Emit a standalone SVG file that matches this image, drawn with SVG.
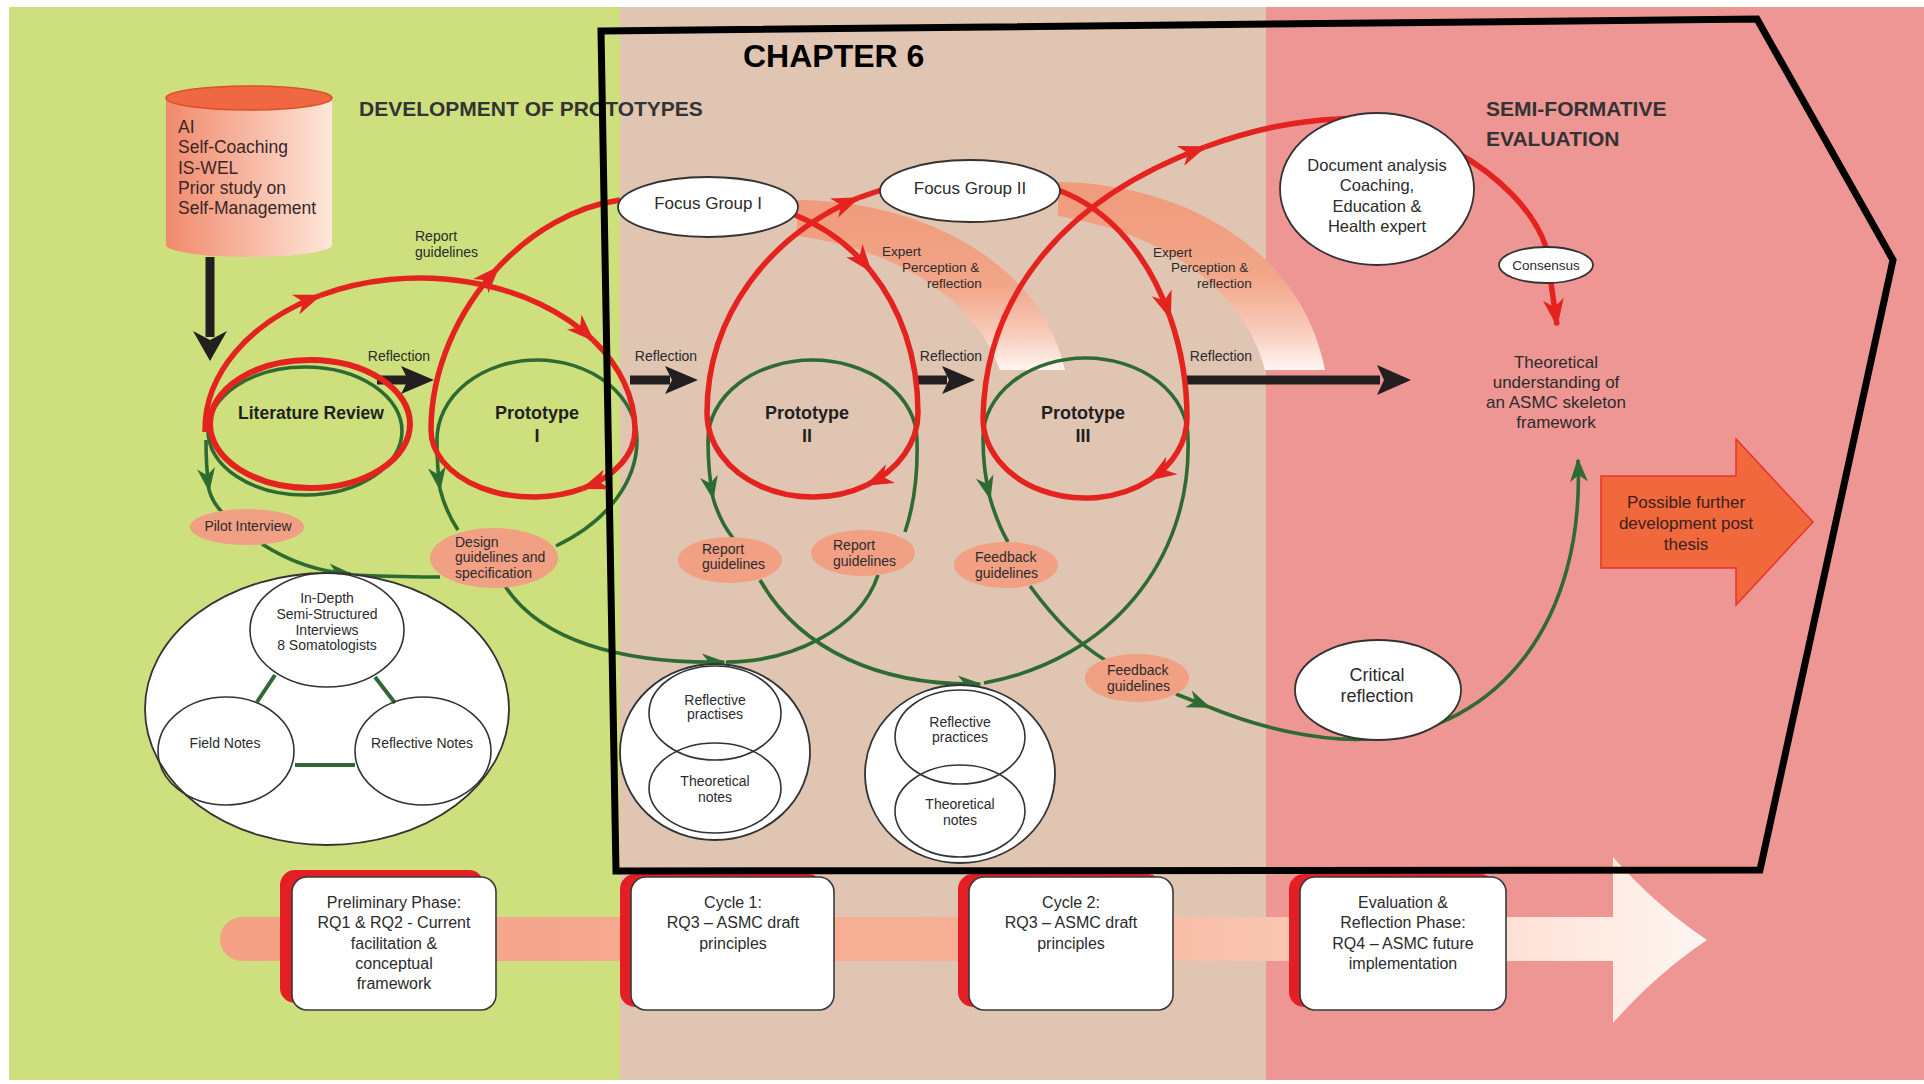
<svg xmlns="http://www.w3.org/2000/svg" width="1924" height="1084" viewBox="0 0 1924 1084">
<defs>
<style>
.t{font-family:'Liberation Sans',Arial,sans-serif;fill:#2b2b2b}
.b{font-weight:bold;fill:#231f20}
.red{fill:none;stroke:#e4231f;stroke-width:5.5}
.grn{fill:none;stroke:#2e6b33;stroke-width:3.6}
.nd{fill:#fff;stroke:#333;stroke-width:1.8}
.ln{fill:none;stroke:#333;stroke-width:1.6}
.lbl{fill:#f1a084}
.blk{fill:#231f20}
.ar{marker-end:url(#ar)}
.ag{marker-end:url(#ag)}
.box{fill:#fff;stroke:#3a3a3a;stroke-width:1.6}
.shd{fill:#e31e24}
.s13{font-size:13.5px}
.s14{font-size:14px}
.s16{font-size:16px}
.s17{font-size:17px}
.m{text-anchor:middle}
</style>
<marker id="ar" viewBox="-30 -12 32 24" refX="0" refY="0" markerWidth="32" markerHeight="24" markerUnits="userSpaceOnUse" orient="auto"><path d="M2,0 L-26,-10.5 L-18,0 L-26,10.5 Z" fill="#e4231f"/></marker>
<marker id="ag" viewBox="-26 -11 28 22" refX="0" refY="0" markerWidth="28" markerHeight="22" markerUnits="userSpaceOnUse" orient="auto"><path d="M2,0 L-22,-9 L-15,0 L-22,9 Z" fill="#2e6b33"/></marker>
<linearGradient id="cyl" x1="0" y1="0" x2="1" y2="0"><stop offset="0" stop-color="#f08a6c"/><stop offset="1" stop-color="#fde6da"/></linearGradient>
<linearGradient id="band1" gradientUnits="userSpaceOnUse" x1="0" y1="200" x2="0" y2="372"><stop offset="0" stop-color="#f09a7b"/><stop offset="0.5" stop-color="#f2a689"/><stop offset="0.78" stop-color="#f8cbba"/><stop offset="1" stop-color="#fff8f5"/></linearGradient>
<linearGradient id="band2" gradientUnits="userSpaceOnUse" x1="0" y1="182" x2="0" y2="372"><stop offset="0" stop-color="#f09a7b"/><stop offset="0.5" stop-color="#f2a689"/><stop offset="0.78" stop-color="#f8cbba"/><stop offset="1" stop-color="#fff8f5"/></linearGradient>
<linearGradient id="bar" gradientUnits="userSpaceOnUse" x1="220" y1="0" x2="1707" y2="0"><stop offset="0" stop-color="#f4a085"/><stop offset="0.5" stop-color="#f6b096"/><stop offset="0.72" stop-color="#f9c6b1"/><stop offset="0.88" stop-color="#fde3d8"/><stop offset="1" stop-color="#fff6f2"/></linearGradient>
</defs>

<g id="background">
<rect x="0" y="0" width="1924" height="1084" fill="#ffffff"/>
<rect x="9" y="7" width="611" height="1073" fill="#cde07d"/>
<rect x="620" y="7" width="646" height="1073" fill="#dfc5b2"/>
<rect x="1266" y="7" width="658" height="1073" fill="#ee9694"/>
</g>

<g id="bands">
<path d="M797,200 C915,200 1040,258 1065,370 L1000,370 C975,300 900,250 797,236 Z" fill="url(#band1)"/>
<path d="M1058,182 C1175,183 1300,243 1325,370 L1265,370 C1245,292 1168,234 1058,216 Z" fill="url(#band2)"/>
</g>

<g id="timeline">
<path d="M242,917 L1613,917 L1613,857 Q1655,905 1707,940 Q1655,975 1613,1023 L1613,961 L242,961 A22,22 0 0 1 242,917 Z" fill="url(#bar)"/>
</g>

<g id="headings">
<text class="t b" x="359" y="116" style="font-size:21px;fill:#333">DEVELOPMENT OF PROTOTYPES</text>
<text class="t b" x="1486" y="116" style="font-size:21px;fill:#333">SEMI-FORMATIVE</text>
<text class="t b" x="1486" y="146" style="font-size:21px;fill:#333">EVALUATION</text>
<text class="t b" x="743" y="67" style="font-size:32px;fill:#000">CHAPTER 6</text>
</g>

<g id="connectors">
<!-- black arrows -->
<rect class="blk" x="205.5" y="257" width="9" height="80"/>
<polygon class="blk" points="210,361 193,331 210,340 227,331"/>
<rect class="blk" x="377" y="375.5" width="33" height="9"/>
<polygon class="blk" points="434,380 401,366 408,380 401,394"/>
<rect class="blk" x="630" y="375.5" width="40" height="9"/>
<polygon class="blk" points="698,380 665,366 672,380 665,394"/>
<rect class="blk" x="917" y="375.5" width="30" height="9"/>
<polygon class="blk" points="975,380 942,366 949,380 942,394"/>
<rect class="blk" x="1185" y="375.5" width="195" height="9"/>
<polygon class="blk" points="1411,380 1377,365 1384,380 1377,395"/>
<text class="t s14 m" x="399" y="361">Reflection</text>
<text class="t s14 m" x="666" y="361">Reflection</text>
<text class="t s14 m" x="951" y="361">Reflection</text>
<text class="t s14 m" x="1221" y="361">Reflection</text>

<!-- green lines -->
<ellipse class="grn" cx="305" cy="431" rx="97" ry="64"/>
<path class="grn ag" d="M206,440 C206,460 207,475 209,490"/>
<path class="grn" d="M209,490 C212,500 216,506 222,512"/>
<path class="grn ag" d="M262,544 C290,562 320,572 351,574"/>
<path class="grn" d="M440,577 C410,577 380,576 352,575"/>
<path class="grn" d="M437,440 A100,80 0 0 1 637,440 C637,480 610,520 556,546"/>
<path class="grn ag" d="M437,440 C437,460 438,475 440,489"/>
<path class="grn" d="M440,489 C444,505 450,518 458,530"/>
<path class="grn" d="M708,440 A104.5,80 0 0 1 917,440 C918,475 914,505 905,532"/>
<path class="grn ag" d="M708,440 C708,465 710,482 713,498"/>
<path class="grn" d="M713,498 C718,515 725,528 733,538"/>
<path class="grn" d="M983,438 A102.5,80 0 0 1 1188,438 C1192,560 1110,660 984,683"/>
<path class="grn ag" d="M983,438 C983,462 986,482 990,498"/>
<path class="grn" d="M990,498 C995,515 1001,530 1008,542"/>
<path class="grn ag" d="M505,586 C540,640 620,664 724,662"/>
<path class="grn" d="M878,575 C860,630 790,662 726,662"/>
<path class="grn ag" d="M760,580 C800,650 880,686 980,684"/>
<path class="grn" d="M1030,586 C1055,620 1080,645 1105,660"/>
<path class="grn ag" d="M1176,694 L1209,707"/>
<path class="grn ag" d="M1209,707 C1260,728 1320,742 1370,739 C1500,730 1585,620 1578,460"/>

<!-- red lines -->
<ellipse cx="310" cy="424" rx="100" ry="64" fill="none" stroke="#e4231f" stroke-width="6"/>
<path class="red ar" d="M205,432 A215,152 0 0 1 320,295.5"/>
<path class="red ar" d="M320,295.5 A215,152 0 0 1 593,340"/>
<path class="red ar" d="M593,340 A215,152 0 0 1 635,430 A102,67 0 0 1 583,488.4"/>
<path class="red ar" d="M583,488.4 A102,67 0 0 1 431,430 C431,369.5 457.9,310.5 498.4,267.2"/>
<path class="red" d="M498.4,267.2 C531.6,231.7 573.9,206.75 620,200"/>
<path class="red ar" d="M795,215 C825,227 850.7,246.2 870.7,270.9"/>
<path class="red ar" d="M870.7,270.9 C900.7,307.9 918,357.2 918,413 A105.5,84 0 0 1 867,484.9"/>
<path class="red ar" d="M867,484.9 A105.5,84 0 0 1 707,413 C707,315 770,235 858,198"/>
<path class="red" d="M858,198 L884,189"/>
<path class="red ar" d="M1058,190 C1111.3,209.5 1149.8,258.6 1170.2,317.5"/>
<path class="red ar" d="M1170.2,317.5 C1181.2,349.2 1187,383.7 1187,418 A102,80 0 0 1 1150,479.7"/>
<path class="red ar" d="M1150,479.7 A102,80 0 0 1 983,418 C985,300 1060,200 1205,147"/>
<path class="red" d="M1205,147 C1260,127 1300,121 1337,119 C1400,112 1520,170 1546,247" stroke-width="4.5"/>
<path class="red ar" d="M1551,283 L1557,325" stroke-width="4"/>
</g>

<g id="source">
<path d="M166,98 L166,245 A83,12 0 0 0 332,245 L332,98 Z" fill="url(#cyl)"/>
<ellipse cx="249" cy="98" rx="83" ry="12" fill="#ef6842" stroke="#dc4f2c" stroke-width="1.5"/>
<g class="t" style="font-size:17.5px;fill:#3a2626">
<text x="178" y="133">AI</text>
<text x="178" y="153">Self-Coaching</text>
<text x="178" y="174">IS-WEL</text>
<text x="178" y="194">Prior study on</text>
<text x="178" y="214">Self-Management</text>
</g>
</g>

<g id="literature-review"><text class="t b m" x="311" y="419" style="font-size:17.5px">Literature Review</text></g>
<g id="prototype-1"><text class="t b m" x="537" y="419" style="font-size:18px">Prototype</text><text class="t b m" x="537" y="442" style="font-size:18px">I</text></g>
<g id="prototype-2"><text class="t b m" x="807" y="419" style="font-size:18px">Prototype</text><text class="t b m" x="807" y="442" style="font-size:18px">II</text></g>
<g id="prototype-3"><text class="t b m" x="1083" y="419" style="font-size:18px">Prototype</text><text class="t b m" x="1083" y="442" style="font-size:18px">III</text></g>

<g id="edge-labels">
<text class="t s14" x="415" y="241">Report</text>
<text class="t s14" x="415" y="257">guidelines</text>
<text class="t s13" x="882" y="256">Expert</text>
<text class="t s13" x="902" y="272">Perception &amp;</text>
<text class="t s13" x="927" y="288">reflection</text>
<text class="t s13" x="1153" y="257">Expert</text>
<text class="t s13" x="1171" y="272">Perception &amp;</text>
<text class="t s13" x="1197" y="288">reflection</text>
</g>

<g id="focus-group-1"><ellipse class="nd" cx="708" cy="207" rx="90" ry="30"/><text class="t s17 m" x="708" y="209">Focus Group I</text></g>
<g id="focus-group-2"><ellipse class="nd" cx="970" cy="191" rx="90" ry="31"/><text class="t s17 m" x="970" y="194">Focus Group II</text></g>
<g id="document-analysis"><ellipse class="nd" cx="1377" cy="189" rx="97" ry="76"/>
<g class="t m" style="font-size:16.5px"><text x="1377" y="171">Document analysis</text><text x="1377" y="191">Coaching,</text><text x="1377" y="212">Education &amp;</text><text x="1377" y="232">Health expert</text></g></g>
<g id="consensus"><ellipse class="nd" cx="1546" cy="265" rx="47" ry="18"/><text class="t s13 m" x="1546" y="270">Consensus</text></g>
<g id="theoretical-understanding" class="t s17 m"><text x="1556" y="368">Theoretical</text><text x="1556" y="388">understanding of</text><text x="1556" y="408">an ASMC skeleton</text><text x="1556" y="428">framework</text></g>

<g id="further-development">
<polygon points="1601,476 1736,476 1736,439 1813,522 1736,605 1736,568 1601,568" fill="#f0683c" stroke="#e8352a" stroke-width="1.5"/>
<g class="t m" style="font-size:17px;fill:#3a2020"><text x="1686" y="508">Possible further</text><text x="1686" y="529">development post</text><text x="1686" y="550">thesis</text></g>
</g>

<g id="pilot-interview"><ellipse class="lbl" cx="247" cy="527" rx="57" ry="18"/><text class="t s14 m" x="248" y="531">Pilot Interview</text></g>
<g id="design-guidelines"><ellipse class="lbl" cx="494" cy="558" rx="64" ry="30"/><g class="t s14"><text x="455" y="547">Design</text><text x="455" y="562">guidelines and</text><text x="455" y="578">specification</text></g></g>
<g id="report-guidelines-1"><ellipse class="lbl" cx="730" cy="560" rx="52" ry="23"/><g class="t s14"><text x="702" y="554">Report</text><text x="702" y="569">guidelines</text></g></g>
<g id="report-guidelines-2"><ellipse class="lbl" cx="863" cy="553" rx="52" ry="23"/><g class="t s14"><text x="833" y="550">Report</text><text x="833" y="566">guidelines</text></g></g>
<g id="feedback-guidelines-1"><ellipse class="lbl" cx="1006" cy="565" rx="52" ry="23"/><g class="t s14"><text x="975" y="562">Feedback</text><text x="975" y="578">guidelines</text></g></g>
<g id="feedback-guidelines-2"><ellipse class="lbl" cx="1137" cy="678" rx="52" ry="24"/><g class="t s14"><text x="1107" y="675">Feedback</text><text x="1107" y="691">guidelines</text></g></g>

<g id="interviews-group">
<ellipse class="nd" cx="327" cy="709" rx="182" ry="136"/>
<line x1="275" y1="675" x2="257" y2="702" stroke="#2e6b33" stroke-width="4"/>
<line x1="375" y1="677" x2="395" y2="703" stroke="#2e6b33" stroke-width="4"/>
<line x1="295" y1="765" x2="355" y2="765" stroke="#2e6b33" stroke-width="4"/>
<ellipse class="ln" cx="327" cy="630" rx="77" ry="57"/>
<ellipse class="ln" cx="226" cy="751" rx="68" ry="54"/>
<ellipse class="ln" cx="423" cy="751" rx="68" ry="54"/>
<g class="t s14 m"><text x="327" y="603">In-Depth</text><text x="327" y="619">Semi-Structured</text><text x="327" y="635">Interviews</text><text x="327" y="650">8 Somatologists</text>
<text x="225" y="748">Field Notes</text><text x="422" y="748">Reflective Notes</text></g>
</g>

<g id="cycle1-notes">
<ellipse class="nd" cx="715" cy="752" rx="95" ry="88"/>
<ellipse class="ln" cx="715" cy="713" rx="66" ry="47"/>
<ellipse class="ln" cx="715" cy="788" rx="66" ry="45"/>
<g class="t s14 m"><text x="715" y="705">Reflective</text><text x="715" y="719">practises</text><text x="715" y="786">Theoretical</text><text x="715" y="802">notes</text></g>
</g>
<g id="cycle2-notes">
<ellipse class="nd" cx="960" cy="774" rx="95" ry="89"/>
<ellipse class="ln" cx="960" cy="737" rx="65" ry="47"/>
<ellipse class="ln" cx="960" cy="811" rx="65" ry="46"/>
<g class="t s14 m"><text x="960" y="727">Reflective</text><text x="960" y="742">practices</text><text x="960" y="809">Theoretical</text><text x="960" y="825">notes</text></g>
</g>

<g id="critical-reflection"><ellipse class="nd" cx="1378" cy="690" rx="83" ry="50"/><g class="t m" style="font-size:18px"><text x="1377" y="681">Critical</text><text x="1377" y="702">reflection</text></g></g>

<g id="phase-preliminary"><rect class="shd" x="280" y="870" width="204" height="133" rx="15"/><rect class="box" x="292" y="877" width="204" height="133" rx="15"/>
<g class="t s16 m"><text x="394" y="908">Preliminary Phase:</text><text x="394" y="928">RQ1 &amp; RQ2 - Current</text><text x="394" y="949">facilitation &amp;</text><text x="394" y="969">conceptual</text><text x="394" y="989">framework</text></g></g>
<g id="phase-cycle1"><rect class="shd" x="620" y="874" width="203" height="133" rx="15"/><rect class="box" x="631" y="877" width="203" height="133" rx="15"/>
<g class="t s16 m"><text x="733" y="908">Cycle 1:</text><text x="733" y="928">RQ3 – ASMC draft</text><text x="733" y="949">principles</text></g></g>
<g id="phase-cycle2"><rect class="shd" x="958" y="874" width="204" height="133" rx="15"/><rect class="box" x="969" y="877" width="204" height="133" rx="15"/>
<g class="t s16 m"><text x="1071" y="908">Cycle 2:</text><text x="1071" y="928">RQ3 – ASMC draft</text><text x="1071" y="949">principles</text></g></g>
<g id="phase-evaluation"><rect class="shd" x="1289" y="874" width="206" height="133" rx="15"/><rect class="box" x="1300" y="877" width="206" height="133" rx="15"/>
<g class="t s16 m"><text x="1403" y="908">Evaluation &amp;</text><text x="1403" y="928">Reflection Phase:</text><text x="1403" y="949">RQ4 – ASMC future</text><text x="1403" y="969">implementation</text></g></g>

<g id="chapter-6-outline">
<polygon points="601,31 1757,19 1893,260 1760,870 616,871" fill="none" stroke="#000" stroke-width="7" stroke-linejoin="miter"/>
</g>
</svg>
